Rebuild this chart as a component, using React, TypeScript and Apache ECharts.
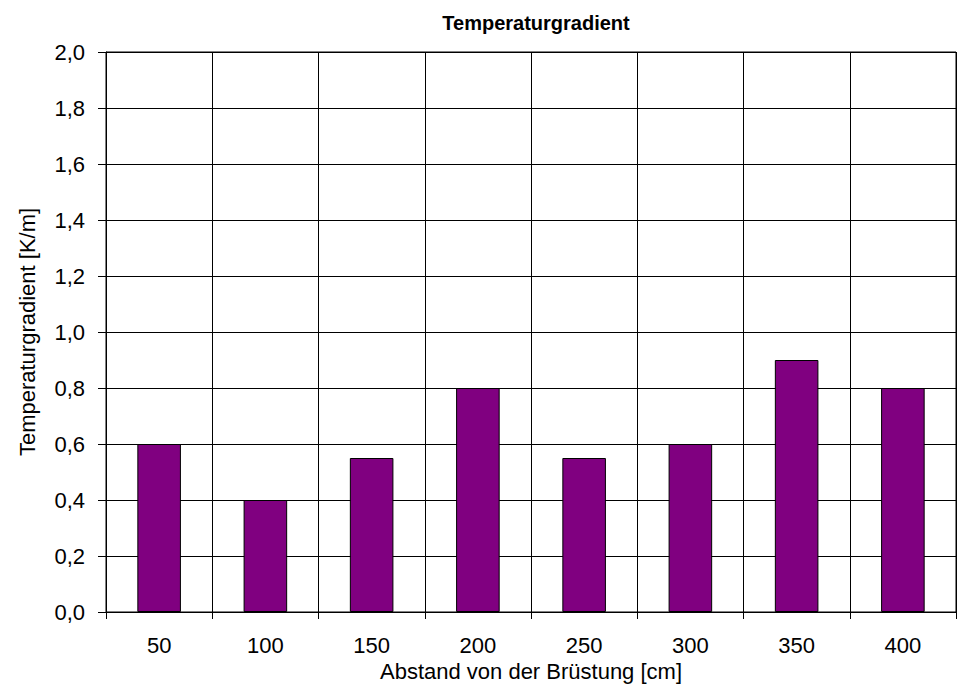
import React, { useEffect, useRef } from "react";
import * as echarts from "echarts";

const categories = ["50", "100", "150", "200", "250", "300", "350", "400"];
const values = [0.6, 0.4, 0.55, 0.8, 0.55, 0.6, 0.9, 0.8];
const titleText = "Temperaturgradient";
const xName = "Abstand von der Brüstung [cm]";
const yName = "Temperaturgradient [K/m]";

export default function App() {
  const ref = useRef<HTMLDivElement>(null);
  useEffect(() => {
    if (!ref.current) return;
    const chart = echarts.init(ref.current, null, { renderer: "svg" });
    const font = "Liberation Sans";
    chart.setOption({
      animation: false,
      backgroundColor: "#ffffff",
      textStyle: { fontFamily: font, color: "#000" },
      title: {
        text: titleText,
        left: 531,
        textAlign: "center",
        top: 8,
        textStyle: { fontFamily: font, fontSize: 20, fontWeight: "bold", color: "#000" },
      },
      grid: {
        left: 106,
        right: 2,
        top: 52,
        bottom: 76,
        show: true,
        borderColor: "#000",
        borderWidth: 1,
        backgroundColor: "transparent",
      },
      xAxis: {
        type: "category",
        data: categories,
        name: xName,
        nameLocation: "middle",
        nameGap: 47,
        nameTextStyle: { fontFamily: font, fontSize: 22, color: "#000" },
        axisLine: { show: true, lineStyle: { color: "#000", width: 1 } },
        axisTick: { show: true, length: 7, interval: 0, lineStyle: { color: "#000" } },
        axisLabel: { fontFamily: font, fontSize: 22, color: "#000", margin: 22, interval: 0 },
        splitLine: { show: true, interval: 0, lineStyle: { color: "#000", width: 1 } },
      },
      yAxis: {
        type: "value",
        min: 0,
        max: 2,
        interval: 0.2,
        name: yName,
        nameLocation: "middle",
        nameGap: 68,
        nameRotate: 90,
        nameTextStyle: { fontFamily: font, fontSize: 22, color: "#000" },
        axisLine: { show: true, lineStyle: { color: "#000", width: 1 } },
        axisTick: { show: true, length: 8, lineStyle: { color: "#000" } },
        axisLabel: {
          fontFamily: font,
          fontSize: 22,
          color: "#000",
          margin: 21,
          formatter: (v: number) => v.toFixed(1).replace(".", ","),
        },
        splitLine: { show: true, lineStyle: { color: "#000", width: 1 } },
      },
      series: [
        {
          type: "bar",
          data: values,
          barWidth: "41%",
          itemStyle: { color: "#800080", borderColor: "#000", borderWidth: 1 },
        },
      ],
    });
    return () => chart.dispose();
  }, []);
  return <div ref={ref} style={{ width: 958, height: 688, position: "absolute", left: 0, top: 0 }} />;
}
